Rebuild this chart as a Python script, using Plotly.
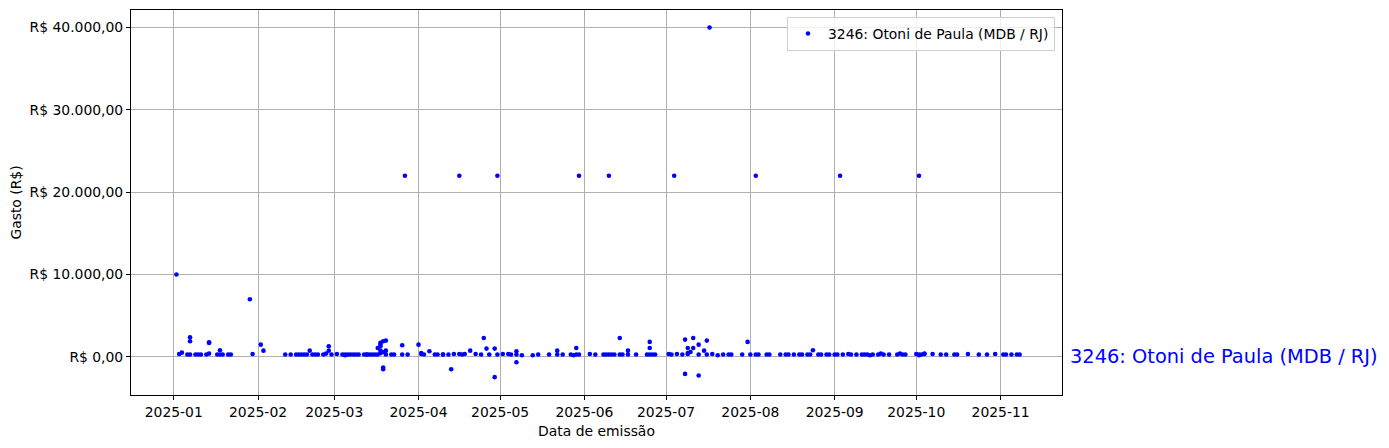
import plotly.graph_objects as go

series_name = "3246: Otoni de Paula (MDB / RJ)"

dates = [
    "2025-01-02", "2025-01-03", "2025-01-04", "2025-01-06", "2025-01-07", "2025-01-07", "2025-01-07",
    "2025-01-09", "2025-01-10", "2025-01-11", "2025-01-13", "2025-01-14", "2025-01-14", "2025-01-14",
    "2025-01-17", "2025-01-18", "2025-01-18", "2025-01-19", "2025-01-21", "2025-01-22", "2025-01-29",
    "2025-01-30",
    "2025-02-02", "2025-02-03", "2025-02-11", "2025-02-13", "2025-02-15", "2025-02-16", "2025-02-17",
    "2025-02-18", "2025-02-19", "2025-02-20", "2025-02-21", "2025-02-22", "2025-02-23", "2025-02-25",
    "2025-02-26", "2025-02-27", "2025-02-27", "2025-02-28",
    "2025-03-02", "2025-03-04", "2025-03-05", "2025-03-05", "2025-03-06", "2025-03-07", "2025-03-08",
    "2025-03-09", "2025-03-10", "2025-03-12", "2025-03-13", "2025-03-13", "2025-03-14", "2025-03-15",
    "2025-03-16", "2025-03-17", "2025-03-17", "2025-03-18", "2025-03-18", "2025-03-18", "2025-03-18",
    "2025-03-18", "2025-03-19", "2025-03-19", "2025-03-19", "2025-03-19", "2025-03-20", "2025-03-20",
    "2025-03-20", "2025-03-22", "2025-03-23", "2025-03-26", "2025-03-26", "2025-03-27", "2025-03-28",
    "2025-04-01", "2025-04-02", "2025-04-02", "2025-04-03", "2025-04-05", "2025-04-07", "2025-04-08",
    "2025-04-10", "2025-04-10", "2025-04-12", "2025-04-13", "2025-04-14", "2025-04-16", "2025-04-16",
    "2025-04-17", "2025-04-18", "2025-04-20", "2025-04-22", "2025-04-24", "2025-04-25", "2025-04-26",
    "2025-04-27", "2025-04-29", "2025-04-30", "2025-04-29", "2025-04-30",
    "2025-05-02", "2025-05-04", "2025-05-05", "2025-05-07", "2025-05-07", "2025-05-07", "2025-05-09",
    "2025-05-13", "2025-05-15", "2025-05-19", "2025-05-22", "2025-05-22", "2025-05-24", "2025-05-27",
    "2025-05-28", "2025-05-29", "2025-05-30", "2025-05-29", "2025-05-30",
    "2025-06-03", "2025-06-05", "2025-06-08", "2025-06-09", "2025-06-10", "2025-06-10", "2025-06-11",
    "2025-06-12", "2025-06-14", "2025-06-14", "2025-06-15", "2025-06-17", "2025-06-17", "2025-06-20",
    "2025-06-24", "2025-06-25", "2025-06-25", "2025-06-25", "2025-06-26", "2025-06-27",
    "2025-07-02", "2025-07-03", "2025-07-04", "2025-07-05", "2025-07-07", "2025-07-08", "2025-07-08",
    "2025-07-09", "2025-07-09", "2025-07-09", "2025-07-10", "2025-07-11", "2025-07-11", "2025-07-13",
    "2025-07-13", "2025-07-13", "2025-07-15", "2025-07-16", "2025-07-16", "2025-07-17", "2025-07-18",
    "2025-07-20", "2025-07-22", "2025-07-24", "2025-07-25", "2025-07-29", "2025-07-31",
    "2025-08-01", "2025-08-03", "2025-08-03", "2025-08-04", "2025-08-07", "2025-08-08", "2025-08-12",
    "2025-08-14", "2025-08-15", "2025-08-17", "2025-08-19", "2025-08-20", "2025-08-22", "2025-08-23",
    "2025-08-24", "2025-08-26", "2025-08-27", "2025-08-29", "2025-08-30",
    "2025-09-01", "2025-09-02", "2025-09-03", "2025-09-04", "2025-09-06", "2025-09-07", "2025-09-09",
    "2025-09-11", "2025-09-12", "2025-09-13", "2025-09-14", "2025-09-15", "2025-09-17", "2025-09-18",
    "2025-09-19", "2025-09-21", "2025-09-24", "2025-09-25", "2025-09-26", "2025-09-27",
    "2025-10-01", "2025-10-02", "2025-10-02", "2025-10-02", "2025-10-03", "2025-10-04", "2025-10-04",
    "2025-10-07", "2025-10-10", "2025-10-12", "2025-10-15", "2025-10-16", "2025-10-20", "2025-10-24",
    "2025-10-27", "2025-10-30",
    "2025-11-02", "2025-11-03", "2025-11-05", "2025-11-07", "2025-11-08",
]

values = [
    10000, 360, 520, 300, 2390, 1900, 300,
    300, 300, 300, 300, 1780, 1700, 400,
    300, 800, 300, 300, 300, 300, 7000,
    360,
    1490, 760, 300, 300, 300, 300, 300,
    300, 300, 760, 300, 300, 300, 300,
    400, 1300, 760, 300,
    350, 300, 300, 200, 300, 300, 300,
    300, 300, 300, 300, 300, 300, 300,
    300, 1090, 300, 1290, 1490, 1700, 760,
    450, 1900, 600, -1300, -1500, 1980, 760,
    300, 300, 300, 300, 1410, 22000, 300,
    1490, 360, 480, 300, 690, 300, 300,
    300, 300, 300, -1500, 350, 22000, 350,
    300, 350, 760, 350, 300, 2300, 1010,
    300, 1010, 22000, -2460, 300,
    350, 350, 300, 690, -640, 300, 200,
    200, 300, 300, 760, 300, 300, 300,
    200, 1090, 22000, 300, 300,
    350, 300, 300, 300, 22000, 300, 300,
    300, 2300, 300, 300, 760, 300, 300,
    300, 300, 1090, 1820, 300, 300,
    350, 300, 22000, 350, 300, 2100, -2060,
    350, 1090, 480, 600, 2300, 1090, 1490,
    300, -2260, 760, 1980, 300, 40000, 350,
    200, 300, 300, 300, 300, 1820,
    300, 300, 22000, 300, 300, 300, 300,
    300, 300, 300, 300, 300, 300, 300,
    810, 300, 300, 300, 300,
    300, 300, 22000, 300, 350, 300, 300,
    300, 300, 300, 200, 300, 300, 400,
    300, 300, 300, 400, 300, 300,
    350, 300, 22000, 200, 300, 350, 400,
    350, 300, 300, 300, 300, 350, 300,
    300, 350,
    300, 300, 300, 300, 300,
]

y_tickvals = [0, 10000, 20000, 30000, 40000]
y_ticktext = ["R$ 0,00", "R$ 10.000,00", "R$ 20.000,00", "R$ 30.000,00", "R$ 40.000,00"]
x_tickvals = ["2025-01-01", "2025-02-01", "2025-03-01", "2025-04-01", "2025-05-01", "2025-06-01",
              "2025-07-01", "2025-08-01", "2025-09-01", "2025-10-01", "2025-11-01"]
x_ticktext = ["2025-01", "2025-02", "2025-03", "2025-04", "2025-05", "2025-06",
              "2025-07", "2025-08", "2025-09", "2025-10", "2025-11"]

font_family = "DejaVu Sans"
fs = 13.9

fig = go.Figure()
fig.add_trace(go.Scatter(
    x=dates, y=values, mode="markers", name=series_name,
    marker=dict(color="#0000ff", size=4.6, line=dict(width=0)),
))

fig.add_annotation(
    x=1, xref="paper", y=0, yref="y", xanchor="left", yanchor="middle",
    xshift=6, text=series_name, showarrow=False,
    font=dict(size=19.4, color="#0000ff", family=font_family),
)

axis_common = dict(
    showline=True, linecolor="black", linewidth=1, mirror=True,
    showgrid=True, gridcolor="#b0b0b0", gridwidth=0.8,
    ticks="outside", ticklen=4, tickcolor="black", tickwidth=1,
    zeroline=False,
    tickfont=dict(family=font_family, size=fs, color="black"),
)

# The page body has an 8px margin, so the figure is offset by (8, 8).
fig.update_layout(
    width=1381, height=440,
    margin=dict(l=123, r=327, t=2, b=53),
    paper_bgcolor="white", plot_bgcolor="white",
    font=dict(family=font_family, size=fs, color="black"),
    showlegend=True,
    legend=dict(
        x=0.9925, y=0.982, xanchor="right", yanchor="top",
        bgcolor="rgba(255,255,255,0.8)", bordercolor="#d0d0d0", borderwidth=1,
        font=dict(family=font_family, size=fs, color="black"),
        itemwidth=30,
    ),
    xaxis=dict(
        **axis_common,
        type="date",
        range=["2024-12-16 07:00", "2025-11-23 14:00"],
        tickvals=x_tickvals, ticktext=x_ticktext,
        title=dict(text="Data de emissão", font=dict(family=font_family, size=fs), standoff=7),
    ),
    yaxis=dict(
        **axis_common,
        range=[-4625, 42125],
        tickvals=y_tickvals, ticktext=y_ticktext,
        title=dict(text="Gasto (R$)", font=dict(family=font_family, size=fs), standoff=8),
    ),
)

fig.write_html("out.html")
